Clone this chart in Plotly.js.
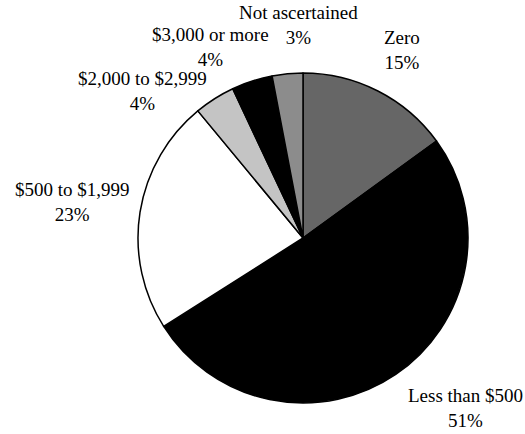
<!DOCTYPE html>
<html>
<head>
<meta charset="utf-8">
<script src="https://cdn.plot.ly/plotly-3.0.1.min.js"></script>
<style>html,body{margin:0;padding:0;background:#fff;}#chart{width:525px;height:434px;}</style>
</head>
<body>
<div id="chart"></div>
<script>
const categories = ["Zero", "Less than $500", "$500 to $1,999", "$2,000 to $2,999", "$3,000 or more", "Not ascertained"];
const shares = [15, 51, 23, 4, 4, 3];
const sliceColors = ["#666666", "#000000", "#ffffff", "#c4c4c4", "#000000", "#8c8c8c"];

// label anchor positions in pixels (layout only)
const labelPos = [[402, 50], [465, 408], [72, 202], [142, 91], [210, 47], [298, 25]];
const W = 525, H = 434;

const annotations = categories.map((c, i) => ({
  text: c + "<br>" + shares[i] + "%",
  x: labelPos[i][0] / W,
  y: 1 - labelPos[i][1] / H,
  xref: "paper", yref: "paper",
  xanchor: "center", yanchor: "middle",
  showarrow: false,
  font: {family: "Liberation Serif, Times New Roman, serif", size: 19, color: "#000"}
}));

const trace = {
  type: "pie",
  labels: categories,
  values: shares,
  sort: false,
  direction: "clockwise",
  rotation: 0,
  textinfo: "none",
  hoverinfo: "label+percent",
  marker: {colors: sliceColors, line: {color: "#000", width: 1.5}},
  domain: {x: [138 / W, 468 / W], y: [1 - 403 / H, 1 - 73 / H]}
};

Plotly.newPlot("chart", [trace], {
  width: W, height: H,
  margin: {l: 0, r: 0, t: 0, b: 0},
  showlegend: false,
  paper_bgcolor: "#fff",
  annotations: annotations
}, {displayModeBar: false, staticPlot: true});
</script>
</body>
</html>
